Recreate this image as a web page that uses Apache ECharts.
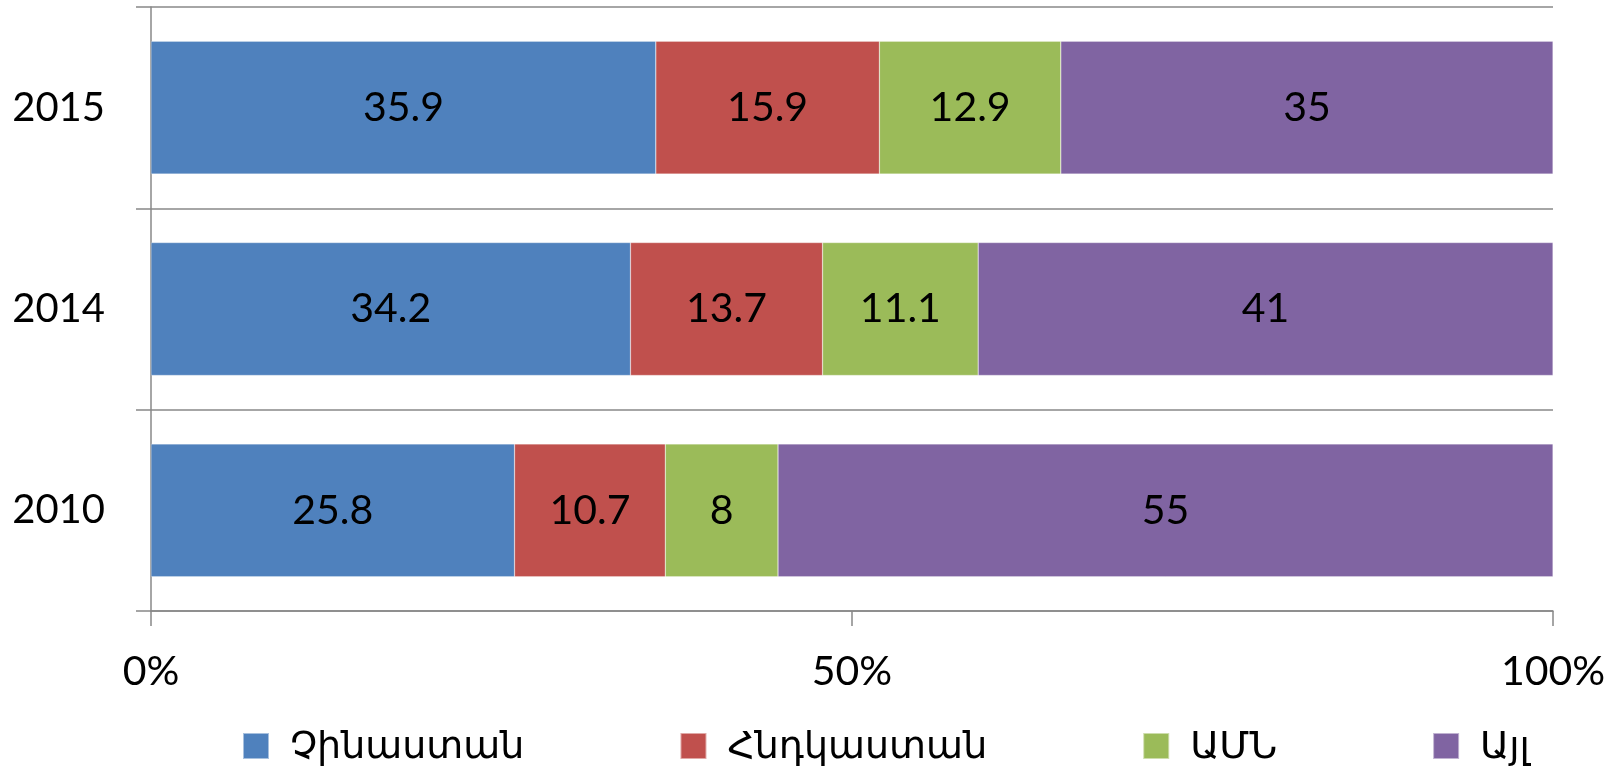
<!DOCTYPE html>
<html><head><meta charset="utf-8">
<script src="https://cdn.jsdelivr.net/npm/echarts@6/dist/echarts.min.js"></script>
<style>html,body{margin:0;padding:0;background:#fff}#c{width:1620px;height:773px}</style>
</head><body><div id="c"></div>
<script>
const years = ['2010', '2014', '2015'];
const seriesNames = ['Չինաստան', 'Հնդկաստան', 'ԱՄՆ', 'Այլ'];
const china = [25.8, 34.2, 35.9];
const india = [10.7, 13.7, 15.9];
const usa = [8, 11.1, 12.9];
const other = [55, 41, 35];
const xTicks = [0, 50, 100];
const colors = ['#4F81BD', '#C0504D', '#9BBB59', '#8064A2'];

const all = [china, india, usa, other];
const totals = years.map((_, i) => all.reduce((s, a) => s + a[i], 0));
const FONT = "Lato, 'DejaVu Sans', sans-serif";

const chart = echarts.init(document.getElementById('c'));
chart.setOption({
  animation: false,
  color: colors,
  textStyle: { fontFamily: FONT },
  grid: { left: 151, right: 67, top: 7, bottom: 162, containLabel: false },
  xAxis: {
    type: 'value', min: 0, max: 100, interval: 50,
    axisLine: { show: true, lineStyle: { color: '#888', width: 1.5 } },
    axisTick: { show: true, length: 15, lineStyle: { color: '#888', width: 1.5 } },
    splitLine: { show: false },
    axisLabel: { formatter: v => xTicks.includes(v) ? v + '%' : '', fontSize: 41, color: '#000', margin: 40, fontFamily: FONT }
  },
  yAxis: {
    type: 'category', data: years,
    axisLine: { show: true, onZero: false, lineStyle: { color: '#888', width: 1.5 } },
    axisTick: { show: true, length: 15, lineStyle: { color: '#888', width: 1.5 } },
    splitLine: { show: true, lineStyle: { color: '#888', width: 1.5 } },
    axisLabel: { fontSize: 40, color: '#000', margin: 46, fontFamily: FONT }
  },
  legend: {
    bottom: 3, left: 237,
    itemWidth: 26, itemHeight: 26, itemGap: 155,
    icon: 'rect',
    textStyle: { fontSize: 38, color: '#000', padding: [0, 0, 0, 16], fontFamily: FONT },
    data: seriesNames
  },
  series: all.map((arr, k) => ({
    name: seriesNames[k], type: 'bar', stack: 'total',
    barCategoryGap: '34%',
    itemStyle: { borderColor: 'rgba(255,255,255,0.5)', borderWidth: 0.5 },
    label: {
      show: true, position: 'inside', color: '#000', fontSize: 41, fontFamily: FONT,
      formatter: p => String(arr[p.dataIndex])
    },
    data: arr.map((v, i) => v / totals[i] * 100)
  }))
});
</script></body></html>
